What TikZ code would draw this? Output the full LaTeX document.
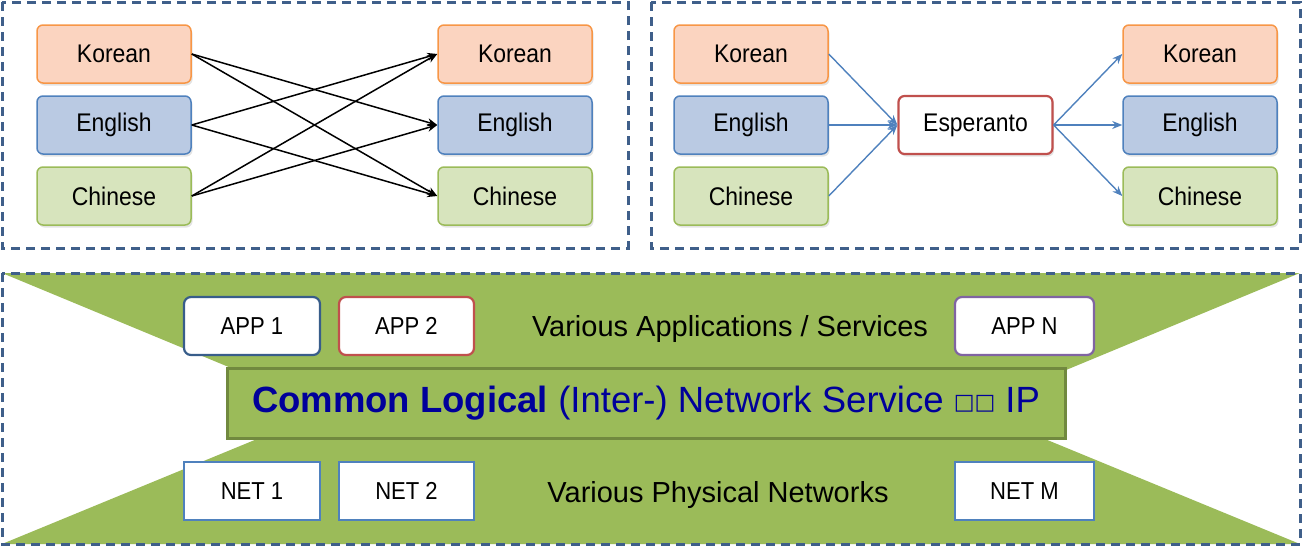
\documentclass[tikz,border=0pt]{standalone}
\usepackage{fontspec}
\setmainfont{Liberation Sans}[FakeStretch=0.9]
\newfontfamily\layerfont{Liberation Sans}
\newfontfamily\symfont{DejaVu Sans}
\usetikzlibrary{arrows.meta,shadows}

\definecolor{frameblue}{HTML}{3F5F8A}
\definecolor{korfill}{HTML}{FBD4C0}
\definecolor{korline}{HTML}{F79646}
\definecolor{engfill}{HTML}{BACAE3}
\definecolor{engline}{HTML}{4F81BD}
\definecolor{chnfill}{HTML}{D7E4BD}
\definecolor{chnline}{HTML}{9BBB59}
\definecolor{espline}{HTML}{C0504D}
\definecolor{layergreen}{HTML}{9BBB59}
\definecolor{layerline}{HTML}{71893F}
\definecolor{appblue}{HTML}{385D8A}
\definecolor{apppurple}{HTML}{8064A2}
\definecolor{ipblue}{HTML}{00009A}

\begin{document}
\begin{tikzpicture}[x=1pt,y=-1pt,
  frame/.style={draw=frameblue,dash pattern=on 9pt off 6pt,line width=3pt},
  langbox/.style={rounded corners=6pt,line width=1.5pt,minimum width=154pt,minimum height=58pt,
    font=\fontsize{25.5}{30}\selectfont,
    drop shadow={opacity=0.22,shadow xshift=1.5pt,shadow yshift=-2.5pt}},
  kor/.style={langbox,draw=korline,fill=korfill},
  eng/.style={langbox,draw=engline,fill=engfill},
  chn/.style={langbox,draw=chnline,fill=chnfill},
  esp/.style={langbox,draw=espline,fill=white,line width=2.2pt},
  appbox/.style={draw,fill=white,rounded corners=7pt,line width=2.2pt,minimum height=58pt,
    font=\fontsize{24.5}{29}\selectfont},
  netbox/.style={draw=engline,fill=white,line width=2.2pt,minimum height=58pt,
    font=\fontsize{24.5}{29}\selectfont},
  layertext/.style={font=\layerfont\fontsize{29}{34}\selectfont},
  xarrow/.style={-{Stealth[length=10pt,width=8pt]},line width=1.5pt},
  barrow/.style={-{Stealth[length=10pt,width=8pt]},draw=engline,line width=1.4pt},
]
\useasboundingbox (0,0) rectangle (1303,546);

% direct translation
\draw[frame] (2,2) rectangle (628,248);
\node[kor] (k1) at (114,54) {Korean};
\node[eng] (e1) at (114,125) {English};
\node[chn] (c1) at (114,196) {Chinese};
\node[kor] (k2) at (515,54) {Korean};
\node[eng] (e2) at (515,125) {English};
\node[chn] (c2) at (515,196) {Chinese};
\foreach \a/\b in {k1/e2,k1/c2,e1/k2,e1/c2,c1/k2,c1/e2}
  \draw[xarrow] (\a.east) -- (\b.west);

% translation through a pivot language
\draw[frame] (651,2) rectangle (1300,248);
\node[kor] (k3) at (751,54) {Korean};
\node[eng] (e3) at (751,125) {English};
\node[chn] (c3) at (751,196) {Chinese};
\node[esp] (eo) at (975.5,125) {Esperanto};
\node[kor] (k4) at (1200,54) {Korean};
\node[eng] (e4) at (1200,125) {English};
\node[chn] (c4) at (1200,196) {Chinese};
\foreach \a in {k3,e3,c3} \draw[barrow] (\a.east) -- (eo.west);
\foreach \b in {k4,e4,c4} \draw[barrow] (eo.east) -- (\b.west);

% hourglass of the layers
\fill[layergreen] (2,273) -- (1300,273) -- (972,409) -- (1300,544) -- (2,544) -- (330,409) -- cycle;
\draw[frame] (2,273) rectangle (1300,544);
\node[appbox,draw=appblue,minimum width=136pt] (app1) at (252,326) {APP 1};
\node[appbox,draw=espline,minimum width=135pt] (app2) at (406.5,326) {APP 2};
\node[appbox,draw=apppurple,minimum width=139pt] (appn) at (1024.5,326) {APP N};
\node[layertext] (apps) at (730,329) {Various Applications / Services};
\node[draw=layerline,fill=layergreen,line width=3pt,minimum width=838pt,minimum height=70pt,
  text=ipblue,font=\layerfont\fontsize{36.5}{42}\selectfont] (ip) at (646,403)
  {\textbf{Common Logical} (Inter-) Network Service \raisebox{3pt}{\symfont\fontsize{22}{26}\selectfont □□} IP};
\node[netbox,minimum width=136pt] (net1) at (252,491) {NET 1};
\node[netbox,minimum width=135pt] (net2) at (406.5,491) {NET 2};
\node[netbox,minimum width=139pt] (netm) at (1024.5,491) {NET M};
\node[layertext] (nets) at (718,495) {Various Physical Networks};
\end{tikzpicture}
\end{document}
